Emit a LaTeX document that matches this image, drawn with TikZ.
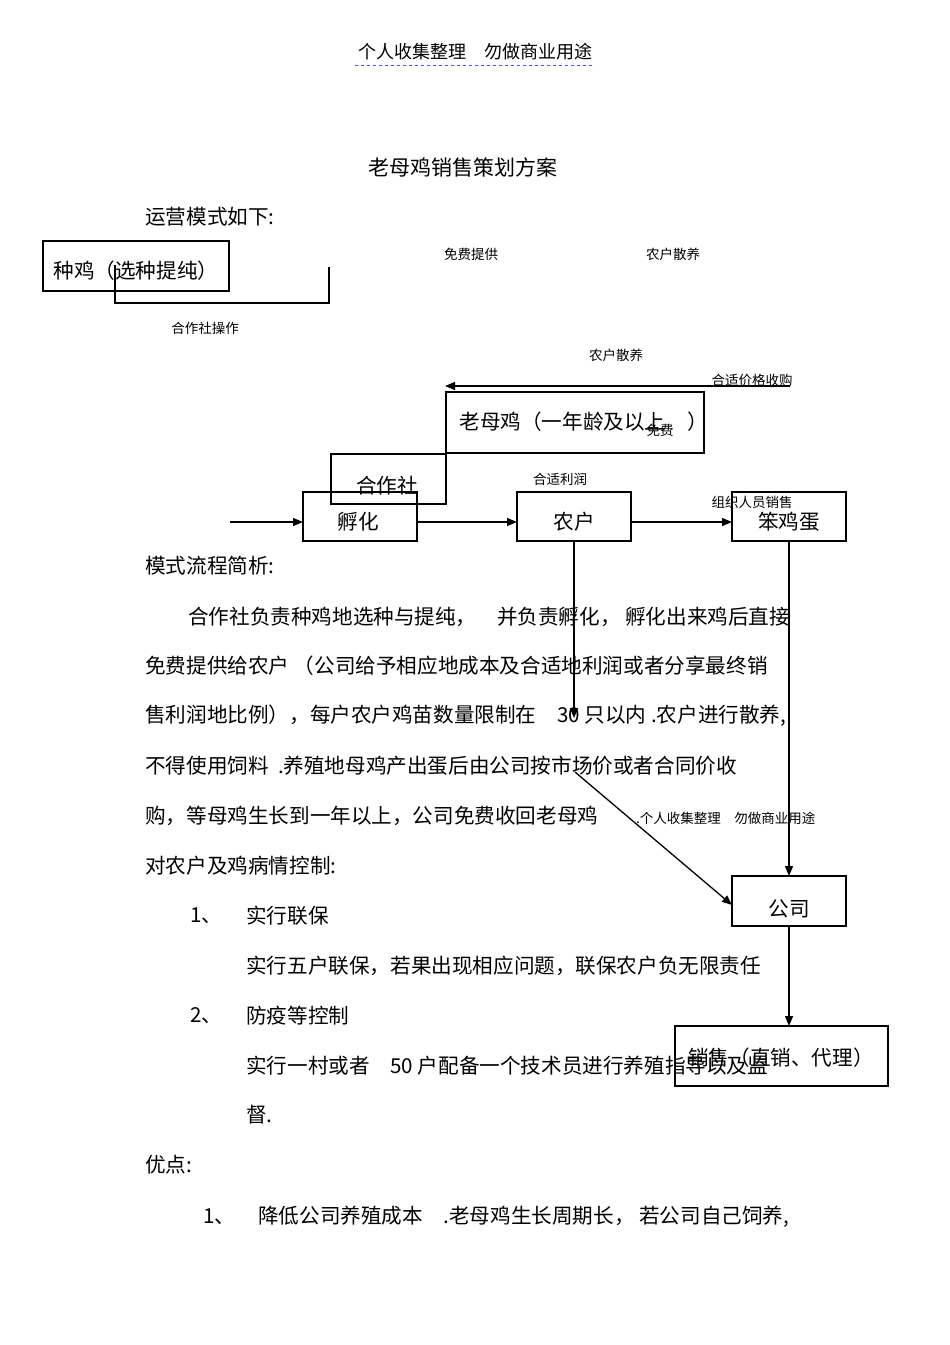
\documentclass[tikz,border=0pt]{standalone}
\usepackage{fontspec}
\setmainfont{Noto Sans CJK SC}
\usetikzlibrary{arrows.meta}
\begin{document}
\begin{tikzpicture}[x=1pt,y=-1pt,
 bx/.style={draw,line width=1.1pt},
 body/.style={anchor=west,inner sep=0,font=\fontsize{20.6}{22}\selectfont},
 sm/.style={inner sep=0,font=\fontsize{13.5}{15}\selectfont},
 bt/.style={font=\fontsize{20.6}{22}\selectfont},
 ar/.style={-{Triangle[length=10pt,width=8pt]},line width=1.3pt}]
\useasboundingbox (0,0) rectangle (950,1345);
\node[inner sep=0,font=\fontsize{18}{20}\selectfont] (hdr) at (475,52) {个人收集整理\quad 勿做商业用途};
\draw[blue!70,dashed,line width=0.7pt] (355,65) -- (595,65);
\node[inner sep=0,font=\fontsize{21}{23}\selectfont] (ttl) at (463,167) {老母鸡销售策划方案};
\node[body] (t0) at (145,217) {运营模式如下:};
% boxes
\draw[bx] (43,241) rectangle (229,291); \draw[line width=2.2pt] (43,241)--(229,241);
\node[bt,anchor=west] (zj) at (50,271) {种鸡（选种提纯）};
\draw[line width=1.2pt] (115,265) |- (329,303) -- (329,267);
\node[sm] (l1) at (471,254) {免费提供};
\node[sm] (l2) at (673,254) {农户散养};
\node[sm] (l3) at (205,328) {合作社操作};
\node[sm] (l4) at (616,355) {农户散养};
\coordinate (ast) at (790,386); \coordinate (aen) at (445,386);
\draw[ar] (ast) -- (aen);
\node[sm] (l5) at (752,380) {合适价格收购};
\draw[bx] (446,392) rectangle (704,453);
\node[bt,anchor=west] (lmj) at (456,422) {老母鸡（一年龄及以上\hspace{22pt}）};
\node[sm] (l6) at (660,430) {免费};
\draw[bx] (331,454) rectangle (446,504);
\node[bt] (hzs) at (387,486) {合作社};
\draw[bx] (303,492) rectangle (417,541); \draw[line width=2.2pt] (303,492)--(331,492);
\node[bt] (fh) at (358,522) {孵化};
\draw[bx] (517,492) rectangle (631,541); \draw[line width=2.2pt] (517,492)--(631,492);
\node[bt] (nh) at (574,522) {农户};
\draw[bx] (732,492) rectangle (846,541); \draw[line width=2.2pt] (732,492)--(846,492);
\node[bt] (bjd) at (789,522) {笨鸡蛋};
\node[sm] (l7) at (560,479) {合适利润};
\node[sm] (l8) at (752,502) {组织人员销售};
\draw[bx] (732,876) rectangle (846,926);
\node[bt] (gs) at (789,909) {公司};
\draw[bx] (675,1026) rectangle (888,1086);
\coordinate (in) at (230,522);
\draw[ar] (in) -- (303,522);
\draw[ar] (417,522) -- (517,522);
\draw[ar] (631,522) -- (732,522);
\draw[ar] (574,541) -- (574,718);
\draw[ar] (575,772) -- (732,905);
\draw[ar] (789,541) -- (789,876);
\draw[ar] (789,926) -- (789,1026);
% body text
\node[body] (b1) at (145,566) {模式流程简析:};
\node[body] (b2) at (188,617) {合作社负责种鸡地选种与提纯，\quad 并负责孵化，\ 孵化出来鸡后直接};
\node[body] (b3) at (145,666) {免费提供给农户 （公司给予相应地成本及合适地利润或者分享最终销};
\node[body] (b4) at (145,716) {售利润地比例），每户农户鸡苗数量限制在\quad 30 只以内 .农户进行散养,};
\node[body] (b5) at (145,766) {不得使用饲料\ \ .养殖地母鸡产出蛋后由公司按市场价或者合同价收};
\node[body] (b6) at (145,816) {购，等母鸡生长到一年以上，公司免费收回老母鸡};
\node[sm,anchor=west] (b6b) at (636,818) {.个人收集整理\quad 勿做商业用途};
\node[body] (b7) at (145,866) {对农户及鸡病情控制:};
\node[body] (b8) at (190,916) {1、};
\node[body] (b8b) at (246,916) {实行联保};
\node[body] (b9) at (246,966) {实行五户联保，若果出现相应问题，联保农户负无限责任};
\node[body] (b10) at (190,1016) {2、};
\node[body] (b10b) at (246,1016) {防疫等控制};
\node[body] (b11) at (246,1066) {实行一村或者\quad 50 户配备一个技术员进行养殖指导以及监};
\node[body] (xs) at (688,1058) {销售（直销、代理）};
\node[body] (b12) at (246,1115) {督.};
\node[body] (b13) at (145,1165) {优点:};
\node[body] (b14) at (203,1217) {1、};
\node[body] (b14b) at (258,1217) {降低公司养殖成本\quad .老母鸡生长周期长，\ 若公司自己饲养,};
\end{tikzpicture}
\end{document}
